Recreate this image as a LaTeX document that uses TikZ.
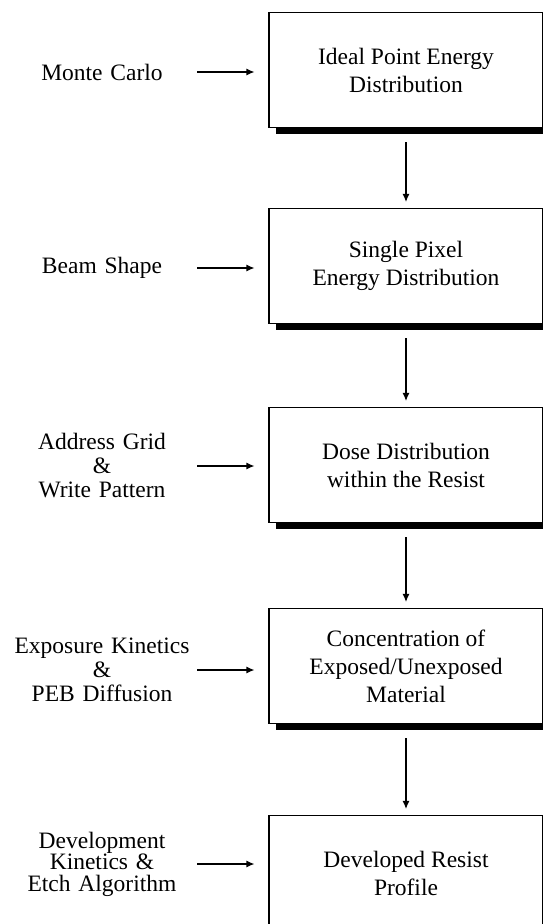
\documentclass[tikz,border=0pt]{standalone}
\usepackage{fontspec}
\setmainfont{Liberation Serif}
\usepackage{tikz}
\usetikzlibrary{arrows.meta,shadows}

\begin{document}
\begin{tikzpicture}[x=1pt,y=-1pt,
  stage/.style={draw,line width=1.1pt,fill=white,minimum width=274pt,minimum height=115pt,align=center,
    font=\fontsize{23.5}{28}\selectfont,
    drop shadow={shadow xshift=7pt,shadow yshift=-6pt,fill=black,opacity=1}},
  input/.style={text width=190pt,align=center,inner sep=0pt,font=\fontsize{23.5}{24}\selectfont},
  flow/.style={line width=1.2pt,-{Latex[length=8pt,width=7pt]}}]
\useasboundingbox (0,0) rectangle (543,924);
\clip (0,0) rectangle (543,924);
% process chain
\node [stage] (ideal) at (406,70) {Ideal Point Energy\\Distribution};
\node [stage] (pixel) at (406,266) {Single Pixel\\Energy Distribution};
\node [stage] (dose) at (406,465) {Dose Distribution\\within the Resist};
\node [stage] (conc) at (406,666) {Concentration of\\Exposed/Unexposed\\Material};
\node [stage] (prof) at (406,873) {Developed Resist\\Profile};
% inputs
\node [input] (mc) at (102,72) {Monte Carlo};
\node [input] (beam) at (102,268) {Beam Shape};
\node [input] (grid) at (102,466) {Address Grid\\\&\\Write Pattern};
\node [input] (expo) at (102,670) {Exposure Kinetics\\\&\\PEB Diffusion};
\node [input,font=\fontsize{23.5}{21.5}\selectfont] (dev) at (102,864) {Development\\Kinetics \&\\Etch Algorithm};
\draw [flow,shorten >=14pt] (mc.east) -- (mc.east -| ideal.west);
\draw [flow,shorten >=14pt] (beam.east) -- (beam.east -| pixel.west);
\draw [flow,shorten >=14pt] (grid.east) -- (grid.east -| dose.west);
\draw [flow,shorten >=14pt] (expo.east) -- (expo.east -| conc.west);
\draw [flow,shorten >=14pt] (dev.east) -- (dev.east -| prof.west);
\draw [flow,shorten <=14pt,shorten >=6pt] (ideal) -- (pixel);
\draw [flow,shorten <=14pt,shorten >=6pt] (pixel) -- (dose);
\draw [flow,shorten <=14pt,shorten >=6pt] (dose) -- (conc);
\draw [flow,shorten <=14pt,shorten >=6pt] (conc) -- (prof);
\end{tikzpicture}
\end{document}
